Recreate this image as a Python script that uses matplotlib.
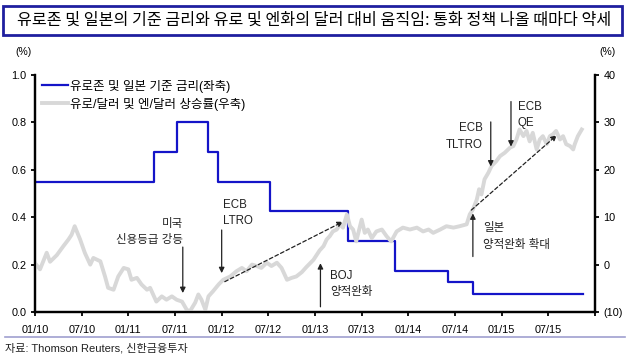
import matplotlib
matplotlib.use("Agg")
import matplotlib.pyplot as plt
from matplotlib.lines import Line2D
from matplotlib.patches import Rectangle

plt.rcParams['font.family'] = ['Liberation Sans', 'Noto Sans CJK KR']

# x axis: months since Jan 2010
tick_months = [0, 6, 12, 18, 24, 30, 36, 42, 48, 54, 60, 66, 72]
tick_labels = ['01/10', '07/10', '01/11', '07/11', '01/12', '07/12', '01/13',
               '07/13', '01/14', '07/14', '01/15', '07/15', '']

# euro area + japan policy rate average (left axis)
rate_months = [0, 15.3, 18.3, 22.2, 23.5, 30.2, 40.2, 46.3, 53.1, 56.3, 70.4]
rate_levels = [0.55, 0.675, 0.8, 0.675, 0.55, 0.425, 0.3, 0.175, 0.125, 0.075, 0.075]

# EUR/USD and JPY/USD rise (right axis)
fx_months = [0.0, 0.64, 1.5, 1.93, 2.8, 3.6, 4.3, 4.7, 5.1, 5.8, 6.4, 7.1, 7.5, 8.4,
             9.0, 9.4, 10.1, 10.7, 11.4, 12.0, 12.4, 13.1, 13.7, 14.4, 14.8, 15.6,
             16.3, 16.9, 17.6, 18.2, 18.9, 19.5, 19.9, 20.6, 21.0, 21.4, 21.9, 22.3,
             22.9, 23.6, 24.2, 25.1, 25.9, 26.6, 27.2, 27.9, 28.5, 29.1, 29.8, 30.4,
             31.1, 31.7, 32.4, 33.0, 33.6, 34.3, 34.9, 35.8, 36.6, 37.1, 37.5, 37.9,
             38.3, 38.8, 39.2, 39.6, 40.1, 40.5, 40.9, 41.3, 42.0, 42.4, 42.8, 43.3,
             43.9, 44.6, 45.2, 45.8, 46.5, 47.3, 48.2, 49.1, 49.9, 50.6, 51.2, 52.1,
             52.9, 53.8, 54.6, 55.5, 55.9, 56.3, 56.8, 57.1, 57.4, 57.8, 58.3, 58.7,
             59.3, 59.8, 60.4, 61.1, 61.5, 61.9, 62.3, 62.8, 63.2, 63.6, 64.0, 64.5,
             64.9, 65.3, 65.8, 66.2, 66.6, 67.0, 67.5, 67.9, 68.3, 68.8, 69.2, 69.4,
             69.8, 70.3]
fx_values = [0.3, -1, 2.5, 0.6, 2, 3.8, 5.3, 6.3, 8.1, 5.3, 2.5, 0, 1.4, 0.7,
             -2.5, -4.9, -5.3, -2.5, -0.7, -1, -3.2, -2.8, -4.2, -5.3, -4.9, -7.8,
             -6.7, -7.4, -6.7, -7.4, -7.8, -9.5, -9.9, -8, -6.3, -7.4, -9.5, -6.7,
             -5.6, -4.2, -3.2, -2.5, -1.4, -0.7, -1.4, 0, -0.3, -0.7, 0.4, -0.3,
             0.4, -0.7, -3.2, -2.8, -2.5, -1.6, -0.5, 1, 3.0, 3.9, 5.3, 6,
             7, 7.4, 8.5, 7.8, 10.6, 8.1, 7.4, 4.9, 9.5, 6.7, 7.4, 5.6,
             7, 7.4, 6, 4.9, 7, 7.8, 7.4, 7.8, 7, 7.4, 6.7, 7.4,
             8.1, 7.8, 8.1, 8.5, 10.6, 11.6, 13.7, 15.9, 14.8, 18, 19.4, 20.8,
             21.8, 22.9, 23.6, 24.7, 25, 26.4, 28.5, 27.1, 28.2, 26, 27.8, 24.3,
             26.4, 27.1, 25.4, 27.1, 27.5, 28.2, 26.4, 27.1, 25.4, 25, 24.3, 25.4,
             27.1, 28.5]

# event labels: text, text x, text y, align, arrow x, arrow start y, arrow end y (right-axis units)
events = [
    ('미국\n신용등급 강등', 19.0, 6.9, 'right', 19.0, 3.7, -6.0),
    ('ECB\nLTRO', 24.2, 10.9, 'left', 24.0, 7.3, -1.8),
    ('BOJ\n양적완화', 37.9, -4.1, 'left', 36.7, -8.9, 0.3),
    ('ECB\nTLTRO', 57.6, 27.0, 'right', 58.6, 30.1, 20.7),
    ('ECB\nQE', 62.1, 31.6, 'left', 61.2, 34.4, 24.9),
    ('일본\n양적완화 확대', 57.6, 5.9, 'left', 56.3, 1.7, 10.8),
]
trend_starts = [(24.4, -3.6), (56.1, 11.5)]
trend_ends = [(39.6, 9.05), (67.1, 27.3)]

fig = plt.figure(figsize=(6.3, 3.59), dpi=100)
ax1 = fig.add_axes([0.0556, 0.1309, 0.8888, 0.6602])
ax2 = ax1.twinx()

ax1.plot(rate_months, rate_levels, drawstyle='steps-post', color='#1414c8', lw=1.6)
ax2.plot(fx_months, fx_values, color='#d8d8d8', lw=2.8, solid_joinstyle='round')

ax1.set_xlim(0, 72)
ax1.set_ylim(0, 1.0)
ax2.set_ylim(-10, 40)
ax1.set_xticks(tick_months)
ax1.set_xticklabels(tick_labels)
ax1.set_yticks([0, 0.2, 0.4, 0.6, 0.8, 1.0])
ax1.set_yticklabels(['0.0', '0.2', '0.4', '0.6', '0.8', '1.0'])
ax2.set_yticks([-10, 0, 10, 20, 30, 40])
ax2.set_yticklabels(['(10)', '0', '10', '20', '30', '40'])

for ax in (ax1, ax2):
    ax.spines['top'].set_visible(False)
    for s in ('left', 'right', 'bottom'):
        ax.spines[s].set_linewidth(1.6)
    ax.tick_params(direction='out', length=3, width=1.3, labelsize=7.8, pad=3,
                   colors='black')
ax1.tick_params(axis='x', pad=6)

for text, tx, ty, ha, axx, y0, y1 in events:
    ax2.text(tx, ty, text, ha=ha, va='center', fontsize=8.3, linespacing=1.5,
             multialignment=ha, color='#222222')
    ax2.annotate('', xy=(axx, y1), xytext=(axx, y0),
                 arrowprops=dict(arrowstyle='-|>', color='#222222', lw=0.9,
                                 mutation_scale=8, shrinkA=0, shrinkB=0))

for (sx, sy), (ex, ey) in zip(trend_starts, trend_ends):
    ax2.annotate('', xy=(ex, ey), xytext=(sx, sy),
                 arrowprops=dict(arrowstyle='-|>', color='#222222', lw=0.9,
                                 linestyle=(0, (3, 2)), mutation_scale=8,
                                 shrinkA=0, shrinkB=0))

handles = [Line2D([], [], color='#1414c8', lw=1.6),
           Line2D([], [], color='#d8d8d8', lw=2.8)]
labels = ['유로존 및 일본 기준 금리(좌축)', '유로/달러 및 엔/달러 상승률(우축)']
ax2.legend(handles, labels, loc='upper left', bbox_to_anchor=(0.012, 0.98),
           frameon=False, fontsize=9, handlelength=2.1, handletextpad=0.2,
           labelspacing=0.4, borderpad=0, borderaxespad=0)

# title box
fig.patches.append(Rectangle((3 / 630, 1 - 35 / 359), 619 / 630, 29 / 359,
                             transform=fig.transFigure, fill=False,
                             edgecolor='#1f1f9f', lw=2))
fig.text(17 / 630, 1 - 20.5 / 359,
         '유로존 및 일본의 기준 금리와 유로 및 엔화의 달러 대비 움직임: 통화 정책 나올 때마다 약세',
         ha='left', va='center', fontsize=11.6, family='Noto Sans CJK KR')
fig.text(23 / 630, 1 - 52 / 359, '(%)', ha='center', va='center', fontsize=7.5)
fig.text(608 / 630, 1 - 52 / 359, '(%)', ha='center', va='center', fontsize=7.5)

fig.add_artist(Line2D([5 / 630, 625 / 630], [1 - 337 / 359, 1 - 337 / 359],
                      transform=fig.transFigure, color='#a0a0d0', lw=1.2))
fig.text(5 / 630, 1 - 348 / 359, '자료: Thomson Reuters, 신한금융투자',
         ha='left', va='center', fontsize=8, color='#222222')

fig.savefig('out.png', dpi=100)
